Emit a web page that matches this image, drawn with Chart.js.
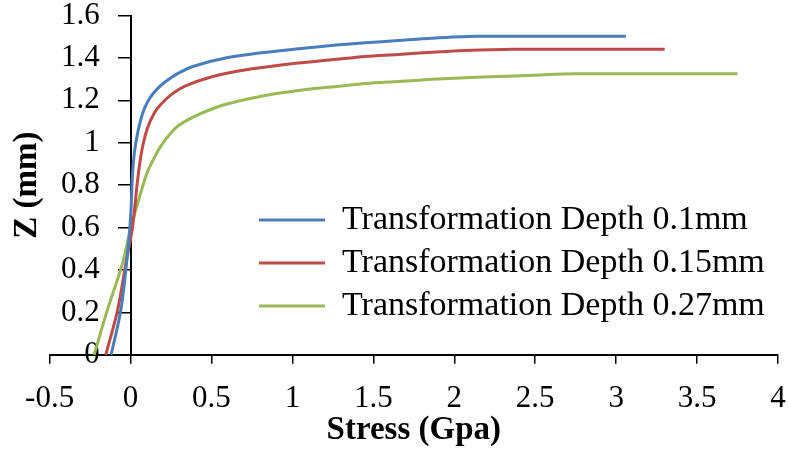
<!DOCTYPE html>
<html>
<head>
<meta charset="utf-8">
<script src="https://cdn.jsdelivr.net/npm/chart.js@4.4.1/dist/chart.umd.min.js"></script>
<style>
  html, body { margin: 0; padding: 0; background: #fff; }
</style>
</head>
<body>
<canvas id="zchart" width="790" height="455"></canvas>
<script>
// values
const seriesNames = ['Transformation Depth 0.1mm', 'Transformation Depth 0.15mm', 'Transformation Depth 0.27mm']
const seriesColors = ['#4a7ebb', '#be4b48', '#98b954']

const stress01 = [-0.12, -0.06, -0.018, 0.002, 0.012, 0.023, 0.043, 0.074, 0.105, 0.147, 0.209, 0.291, 0.395, 0.601, 0.808, 1.035, 1.242, 1.449, 1.655, 1.862, 2.13, 2.5, 3.06]
const z01 = [0, 0.21, 0.48, 0.67, 0.85, 0.949, 1.043, 1.137, 1.192, 1.239, 1.284, 1.326, 1.362, 1.402, 1.424, 1.443, 1.459, 1.471, 1.482, 1.493, 1.502, 1.502, 1.502]

const stress015 = [-0.153, -0.08, -0.029, 0.012, 0.039, 0.054, 0.074, 0.105, 0.147, 0.188, 0.25, 0.333, 0.498, 0.705, 1.035, 1.242, 1.449, 1.655, 1.862, 2.068, 2.357, 2.8, 3.3]
const z015 = [0, 0.21, 0.43, 0.6, 0.792, 0.886, 0.98, 1.07, 1.14, 1.182, 1.226, 1.266, 1.31, 1.343, 1.376, 1.391, 1.407, 1.416, 1.427, 1.435, 1.441, 1.441, 1.441]

const stress027 = [-0.225, -0.143, -0.05, 0.002, 0.074, 0.105, 0.147, 0.188, 0.24, 0.291, 0.395, 0.498, 0.601, 0.808, 1.035, 1.242, 1.449, 1.655, 1.862, 2.068, 2.275, 2.48, 2.75, 3.2, 3.75]
const z027 = [0, 0.212, 0.43, 0.6, 0.792, 0.863, 0.93, 0.985, 1.038, 1.078, 1.124, 1.158, 1.184, 1.219, 1.246, 1.263, 1.279, 1.289, 1.299, 1.307, 1.312, 1.318, 1.325, 1.325, 1.325]

// axis ranges: [min, max, step]
const xRange = [-0.5, 4, 0.5]
const yRange = [0, 1.6, 0.2]

function toPoints(xs, ys) {
  let pts = []
  for (let i = 0; i < xs.length; i++) {
    pts.push({ x: xs[i], y: ys[i] })
  }
  return pts
}

function makeSet(i, xs, ys) {
  return {
    label: seriesNames[i],
    data: toPoints(xs, ys),
    borderColor: seriesColors[i],
    backgroundColor: seriesColors[i],
    borderWidth: 3,
    pointRadius: 0,
    showLine: true,
    tension: 0.3,
    clip: false
  }
}

// 1.0 -> "1", 4.0 -> "4"
function fmt(v) {
  return String(+v.toFixed(1))
}

// put the legend inside the plot, right of the steep part
const legendSpot = {
  id: 'legendSpot',
  afterLayout(chart) {
    const lg = chart.legend
    lg.left = 250
    lg.top = 194
    lg.right = 790
    lg.bottom = 455
    lg.width = lg.right - lg.left
    lg.height = lg.bottom - lg.top
  }
}

Chart.defaults.font.family = "'Liberation Serif', 'Times New Roman', serif"
Chart.defaults.color = '#000'

const tickFont = { size: 31, lineHeight: 1 }

const ctx = document.getElementById('zchart').getContext('2d')
const chart = new Chart(ctx, {
  type: 'scatter',
  data: {
    datasets: [
      makeSet(0, stress01, z01),
      makeSet(1, stress015, z015),
      makeSet(2, stress027, z027)
    ]
  },
  options: {
    responsive: false,
    animation: false,
    layout: { padding: { left: 8, right: 12, top: 15, bottom: 8 } },
    plugins: {
      tooltip: { enabled: false },
      legend: {
        position: 'chartArea',
        align: 'start',
        labels: {
          font: { size: 34 },
          color: '#000',
          padding: 9,
          usePointStyle: true,
          pointStyle: 'line',
          pointStyleWidth: 66
        }
      }
    },
    scales: {
      x: {
        type: 'linear',
        position: 'bottom',
        min: xRange[0],
        max: xRange[1],
        ticks: { stepSize: xRange[2], padding: 0, maxRotation: 0, color: '#000', font: { size: 31, lineHeight: 2.23 }, callback: fmt },
        grid: { drawOnChartArea: false, tickLength: 9, color: '#000', lineWidth: 1.5 },
        border: { color: '#000', width: 2 },
        title: { display: true, text: 'Stress (Gpa)', color: '#000', padding: { top: -19, bottom: 0 }, font: { size: 33, weight: 'bold', lineHeight: 1 } }
      },
      // axis line and tick marks at stress = 0
      y: {
        type: 'linear',
        position: { x: 0 },
        min: yRange[0],
        max: yRange[1],
        ticks: { stepSize: yRange[2], display: false },
        grid: { drawOnChartArea: false, tickLength: 12, color: '#000', lineWidth: 1.5 },
        border: { color: '#000', width: 2 }
      },
      // tick labels, set off to the left of the axis line
      yLabels: {
        type: 'linear',
        axis: 'y',
        position: { x: -0.19 },
        min: yRange[0],
        max: yRange[1],
        ticks: { stepSize: yRange[2], padding: 0, color: '#000', font: tickFont, callback: fmt },
        grid: { display: false, drawTicks: false },
        border: { display: false }
      },
      yTitle: {
        type: 'linear',
        axis: 'y',
        position: 'left',
        ticks: { display: false },
        grid: { display: false, drawTicks: false },
        border: { display: false },
        title: { display: true, text: 'Z (mm)', color: '#000', padding: { top: 0, bottom: 2 }, font: { size: 33, weight: 'bold', lineHeight: 1.2 } }
      }
    }
  },
  plugins: [legendSpot]
})
</script>
</body>
</html>
